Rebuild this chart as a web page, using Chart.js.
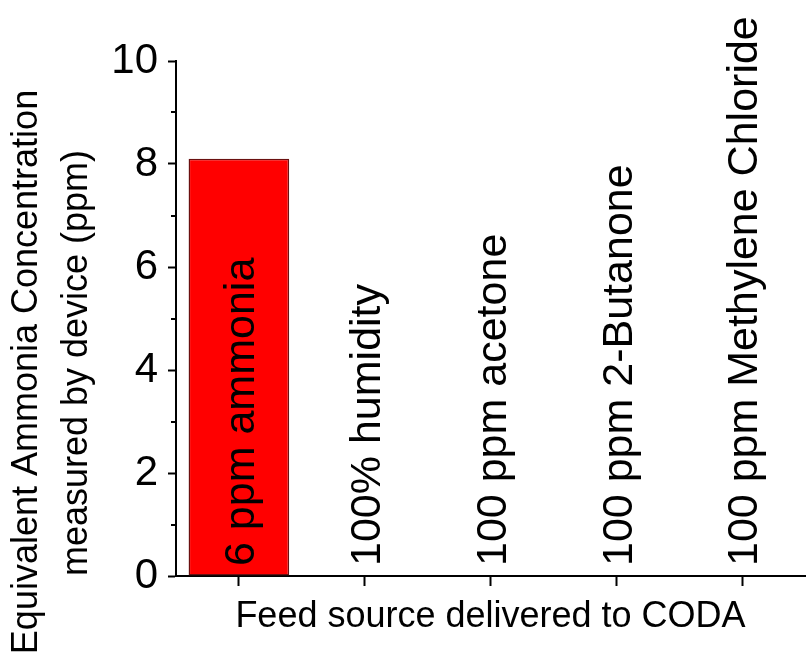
<!DOCTYPE html>
<html>
<head>
<meta charset="utf-8">
<script src="https://cdn.jsdelivr.net/npm/chart.js@4/dist/chart.umd.min.js"></script>
<style>
  html, body { margin: 0; padding: 0; background: #ffffff; }
  #c { display: block; }
</style>
</head>
<body>
<canvas id="c" width="812" height="664"></canvas>
<script>
const categories = ['6 ppm ammonia', '100% humidity', '100 ppm acetone', '100 ppm 2-Butanone', '100 ppm Methylene Chloride'];
const values = [8.1, 0, 0, 0, 0];
const yTickValues = [0, 2, 4, 6, 8, 10];
const yMinorTickValues = [1, 3, 5, 7, 9];
const yTitleLines = ['Equivalent Ammonia Concentration', 'measured by device (ppm)'];
const xTitle = 'Feed source delivered to CODA';

const FONT = '"Liberation Sans", Arial, Helvetica, sans-serif';

const overlayPlugin = {
  id: 'overlay',
  afterDraw(chart) {
    const ctx = chart.ctx;
    const xs = chart.scales.x;
    const ys = chart.scales.y;
    ctx.save();
    // minor ticks on y axis
    ctx.strokeStyle = '#000';
    ctx.lineWidth = 2;
    yMinorTickValues.forEach(v => {
      const py = Math.round(ys.getPixelForValue(v));
      ctx.beginPath();
      ctx.moveTo(xs.left - 5, py);
      ctx.lineTo(xs.left, py);
      ctx.stroke();
    });
    // rotated category labels inside plot
    const fs = 43;
    ctx.fillStyle = '#000';
    ctx.font = fs + 'px ' + FONT;
    ctx.textAlign = 'left';
    ctx.textBaseline = 'alphabetic';
    categories.forEach((c, i) => {
      const px = xs.getPixelForValue(i);
      ctx.save();
      ctx.translate(px + 0.358 * fs, 566);
      ctx.rotate(-Math.PI / 2);
      ctx.fillText(c, 0, 0);
      ctx.restore();
    });
    // y axis title (two lines)
    const tfs = 36;
    ctx.font = tfs + 'px ' + FONT;
    ctx.textAlign = 'center';
    ctx.textBaseline = 'alphabetic';
    const baseX = [37, 87];
    const centerY = [372, 363];
    yTitleLines.forEach((t, i) => {
      ctx.save();
      ctx.translate(baseX[i], centerY[i]);
      ctx.rotate(-Math.PI / 2);
      ctx.fillText(t, 0, 0);
      ctx.restore();
    });
    ctx.restore();
  }
};

new Chart(document.getElementById('c'), {
  type: 'bar',
  data: {
    labels: categories,
    datasets: [{
      data: values,
      backgroundColor: '#ff0000',
      borderColor: '#6a1010',
      borderWidth: 1.5,
      borderSkipped: false,
      barPercentage: 0.8,
      categoryPercentage: 1.0
    }]
  },
  options: {
    responsive: false,
    devicePixelRatio: 1,
    animation: false,
    layout: { padding: { top: 61, right: 7, left: 0, bottom: 0 } },
    plugins: {
      legend: { display: false },
      tooltip: { enabled: false }
    },
    scales: {
      x: {
        type: 'category',
        offset: true,
        grid: {
          display: true,
          offset: false,
          drawOnChartArea: false,
          drawTicks: true,
          tickLength: 10,
          tickWidth: 2,
          tickColor: '#000'
        },
        border: { display: true, color: '#000', width: 2 },
        ticks: { display: false },
        title: {
          display: true,
          text: xTitle,
          color: '#000',
          font: { family: FONT, size: 36, lineHeight: 1.2 },
          padding: { top: 0, bottom: 25 }
        },
        afterFit(scale) { scale.height = 88; }
      },
      y: {
        min: 0,
        max: 10,
        afterBuildTicks(scale) { scale.ticks = yTickValues.map(v => ({ value: v })); },
        grid: {
          display: true,
          drawOnChartArea: false,
          drawTicks: true,
          tickLength: 8,
          tickWidth: 2,
          tickColor: '#000'
        },
        border: { display: true, color: '#000', width: 2 },
        ticks: {
          color: '#000',
          padding: 10,
          font: { family: FONT, size: 42 },
          callback: (v) => String(v)
        },
        afterFit(scale) { scale.width = 176; }
      }
    }
  },
  plugins: [overlayPlugin]
});
</script>
</body>
</html>
